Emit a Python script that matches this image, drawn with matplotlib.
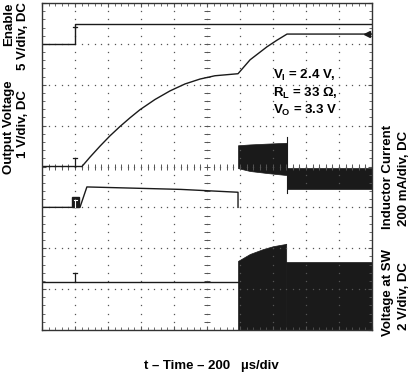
import matplotlib
matplotlib.use("Agg")
import matplotlib.pyplot as plt
import numpy as np

plt.rcParams["font.family"] = "Liberation Sans"
plt.rcParams["font.weight"] = "bold"
plt.rcParams["mathtext.fontset"] = "custom"
plt.rcParams["mathtext.rm"] = "Liberation Sans:bold"
plt.rcParams["mathtext.default"] = "rm"

# time base: 200 us/div, 10 divisions
T_DIV = 200.0

# Enable (V), 5 V/div
enable_t = [0, 200, 200, 2000]
enable_v = [0, 0, 2.4, 2.4]

# Output voltage (V), 1 V/div
vout_t = [0, 242, 291, 352, 412, 473, 533, 594, 685, 776, 867, 958, 1048,
          1188, 1261, 1364, 1424, 1485, 2000]
vout_v = [0, 0, 0.23, 0.50, 0.75, 0.98, 1.19, 1.39, 1.64, 1.85, 2.02, 2.14,
          2.22, 2.27, 2.61, 2.93, 3.09, 3.24, 3.24]

# Inductor current (mA), 200 mA/div - before switching starts
il_t = [0, 230, 272, 840, 1188, 1188]
il_v = [0, 0, 100, 88, 74, 0]
# switching bursts (ripple envelopes)
il_b1_t = [1188, 1260, 1364, 1484]
il_b1_hi = [304, 308, 312, 316]
il_b1_lo = [192, 178, 168, 158]
il_b2_t = [1484, 2000]
il_b2_hi = [192, 192]
il_b2_lo = [90, 90]
il_step_t = [1484, 1484]
il_step_v = [344, 70]

# Voltage at SW (V), 2 V/div
sw_t = [0, 1188]
sw_v = [0, 0]
sw_b1_t = [1188, 1260, 1340, 1400, 1470, 1480]
sw_b1_hi = [1.02, 1.36, 1.60, 1.74, 1.84, 1.86]
sw_b2_t = [1480, 2000]
sw_b2_hi = [0.98, 0.98]

# channel ground positions (div) and scales (units/div)
GND = {"en": 7.0, "vo": 4.0, "il": 3.0, "sw": 1.18}
SCALE = {"en": 5.0, "vo": 1.0, "il": 200.0, "sw": 2.0}


def sx(t):
    return np.asarray(t, dtype=float) / T_DIV


def sy(v, ch):
    return GND[ch] + np.asarray(v, dtype=float) / SCALE[ch]


fig = plt.figure(figsize=(4.13, 3.73), dpi=100)
ax = fig.add_axes([42 / 413, 1 - 330 / 373, 330 / 413, 327 / 373])
ax.set_xlim(0, 10)
ax.set_ylim(0, 8)

gc = "#555555"
# dotted graticule
for k in range(1, 10):
    ax.plot(np.full(41, k), np.linspace(0, 8, 41), ls="none", marker="s",
            ms=0.9, mew=0, color=gc)
for k in range(1, 8):
    ax.plot(np.linspace(0, 10, 51), np.full(51, k), ls="none", marker="s",
            ms=0.9, mew=0, color=gc)
# centre cross with minor ticks
ax.plot(np.linspace(0, 10, 51), np.full(51, 4), ls="none", marker="|",
        ms=4, mew=0.7, color=gc)
ax.plot(np.full(41, 5), np.linspace(0, 8, 41), ls="none", marker="_",
        ms=4, mew=0.7, color=gc)

for s in ax.spines.values():
    s.set_color("#333333")
    s.set_linewidth(1.0)
ax.set_xticks(np.arange(0, 11, 1))
ax.set_yticks(np.arange(0, 9, 1))
ax.set_xticks(np.arange(0, 10.01, 0.2), minor=True)
ax.set_yticks(np.arange(0, 8.01, 0.2), minor=True)
ax.tick_params(which="both", direction="in", top=True, right=True,
               labelbottom=False, labelleft=False, color=gc)
ax.tick_params(which="major", length=3, width=0.8)
ax.tick_params(which="minor", length=2, width=0.6)

tc = "#1a1a1a"
lw = 1.0
ax.plot(sx(enable_t), sy(enable_v, "en"), color=tc, lw=lw)
ax.plot(sx(vout_t), sy(vout_v, "vo"), color=tc, lw=lw)
ax.plot(sx(il_t), sy(il_v, "il"), color=tc, lw=lw)
ax.fill_between(sx(il_b1_t), sy(il_b1_lo, "il"), sy(il_b1_hi, "il"),
                color=tc, lw=0.5)
ax.fill_between(sx(il_b2_t), sy(il_b2_lo, "il"), sy(il_b2_hi, "il"),
                color=tc, lw=0.5)
ax.plot(sx(il_step_t), sy(il_step_v, "il"), color=tc, lw=0.8)
ax.plot(sx(sw_t), sy(sw_v, "sw"), color=tc, lw=lw)
ax.fill_between(sx(sw_b1_t), 0, sy(sw_b1_hi, "sw"), color=tc, lw=0.5)
ax.fill_between(sx(sw_b2_t), 0, sy(sw_b2_hi, "sw"), color=tc, lw=0.5)

# channel ground markers
for ch in ["vo", "sw"]:
    g = GND[ch]
    ax.plot([1, 1], [g, g + 0.22], color=tc, lw=0.9)
    ax.plot([0.93, 1.07], [g + 0.22, g + 0.22], color=tc, lw=0.9)
g = GND["il"]
ax.add_patch(plt.Rectangle((0.91, g), 0.2, 0.25, color=tc))
ax.plot([1.01, 1.01], [g + 0.02, g + 0.17], color="white", lw=0.8)
ax.plot([0.96, 1.06], [g + 0.17, g + 0.17], color="white", lw=0.8)
ax.plot([0.95, 1.07], [7.42, 7.42], color=tc, lw=0.9)
# trigger level arrow
ax.plot([9.85], [sy(3.24, "vo")], marker="<", ms=4, color=tc)

ax.text(7.0, 6.42,
        "V$_{I}$ = 2.4 V,\nR$_{L}$ = 33 Ω,\nV$_{O}$ = 3.3 V",
        fontsize=9.5, fontweight="bold", va="top", ha="left",
        linespacing=1.25, color="black")

fs = 9.5
def ftext(x, y, s, va="center", **kw):
    fig.text(x / 413, 1 - y / 373, s, fontsize=fs, fontweight="bold",
             ha="center", va=va, **kw)

ftext(9, 2, "Enable", va="top", rotation=90)
ftext(23, 2, "5 V/div, DC", va="top", rotation=90)
ftext(9, 127, "Output Voltage", rotation=90)
ftext(23, 124, "1 V/div, DC", rotation=90)
ftext(388, 177, "Inductor Current", rotation=90)
ftext(404, 178, "200 mA/div, DC", rotation=90)
ftext(388, 292, "Voltage at SW", rotation=90)
ftext(404, 296, "2 V/div, DC", rotation=90)
ftext(211, 366, "t – Time – 200   µs/div")

fig.savefig("out.png", dpi=100)
